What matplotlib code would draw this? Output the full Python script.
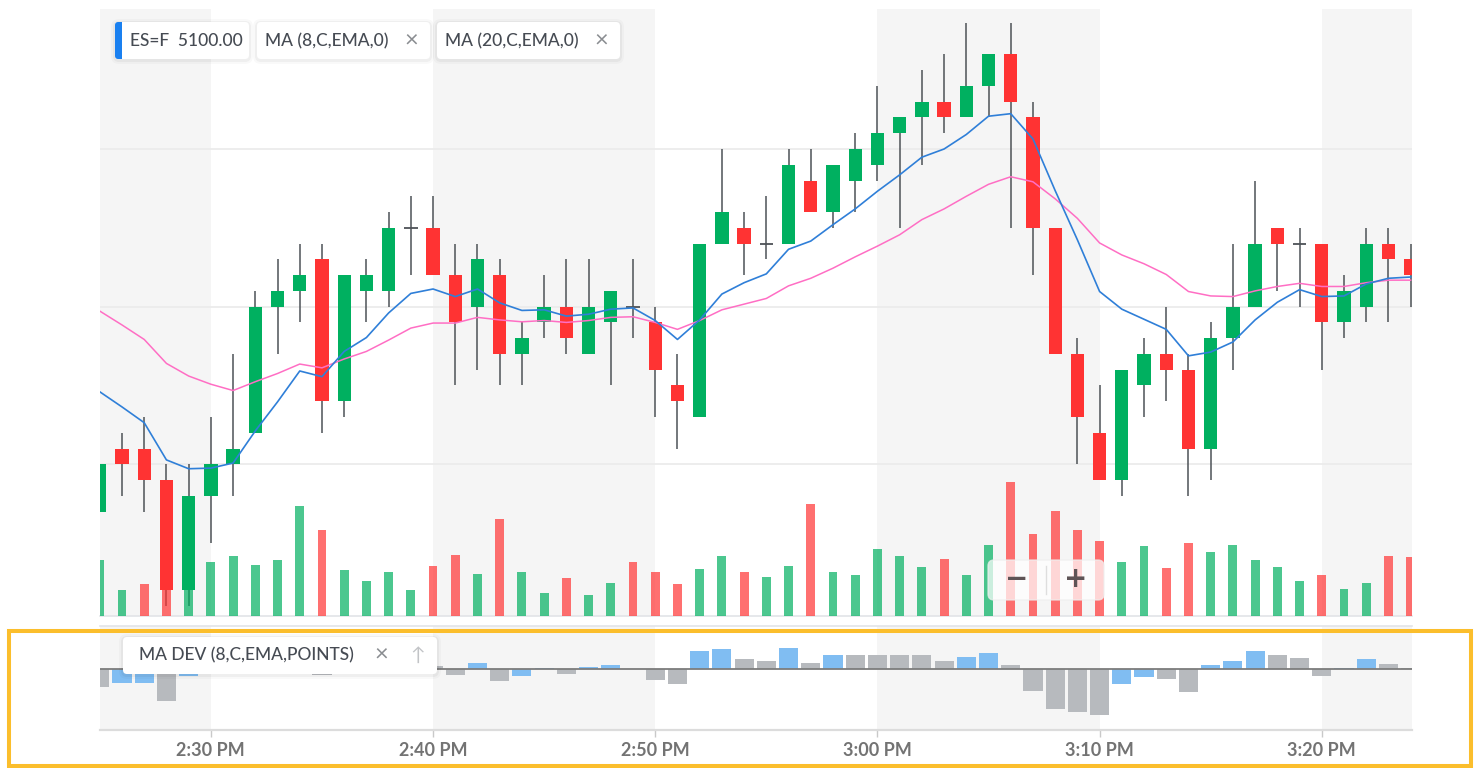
import numpy as np
import matplotlib
matplotlib.use("Agg")
import matplotlib.pyplot as plt
from matplotlib.patches import FancyBboxPatch, Rectangle
from matplotlib.transforms import IdentityTransform

W, H = 1482, 768
plt.rcParams['font.family'] = ['Lato', 'DejaVu Sans']

# one-minute ES=F bars, first bar 2:25 PM
opens = [5096.75, 5097.75, 5097.75, 5097.25, 5095.50, 5097.00, 5097.50, 5098.00, 5100.00, 5100.25,
         5100.75, 5098.50, 5100.25, 5100.25, 5101.25, 5101.25, 5100.50, 5100.00, 5100.50, 5099.25,
         5099.75, 5100.00, 5099.25, 5099.75, 5100.00, 5099.75, 5098.75, 5098.25, 5101.00, 5101.25,
         5101.00, 5101.00, 5102.00, 5101.50, 5102.00, 5102.25, 5102.75, 5103.00, 5103.25, 5103.00,
         5103.50, 5104.00, 5103.00, 5101.25, 5099.25, 5098.00, 5097.25, 5098.75, 5099.25, 5099.00,
         5097.75, 5099.50, 5100.00, 5101.25, 5101.00, 5101.00, 5099.75, 5100.00, 5101.00, 5100.75]
highs = [5097.50, 5098.00, 5098.25, 5097.50, 5097.50, 5098.25, 5099.25, 5100.25, 5100.75, 5101.00,
         5101.00, 5100.50, 5100.75, 5101.50, 5101.75, 5101.75, 5101.00, 5101.00, 5100.75, 5099.75,
         5100.50, 5100.75, 5100.75, 5100.25, 5100.75, 5100.00, 5099.25, 5101.00, 5102.50, 5101.50,
         5101.75, 5102.50, 5102.50, 5102.25, 5102.75, 5103.50, 5103.00, 5103.75, 5104.00, 5104.50,
         5104.00, 5104.50, 5103.25, 5101.25, 5099.50, 5098.75, 5099.00, 5099.50, 5100.00, 5099.25,
         5099.75, 5101.00, 5102.00, 5101.25, 5101.25, 5101.00, 5100.50, 5101.25, 5101.25, 5101.00]
lows = [5096.75, 5097.00, 5096.75, 5095.25, 5095.25, 5096.25, 5097.00, 5098.00, 5099.25, 5099.75,
        5098.00, 5098.25, 5099.75, 5100.00, 5100.50, 5100.50, 5098.75, 5099.00, 5098.75, 5098.75,
        5099.50, 5099.25, 5099.25, 5098.75, 5099.50, 5098.25, 5097.75, 5098.25, 5101.00, 5100.50,
        5100.75, 5101.00, 5101.50, 5101.25, 5101.50, 5102.00, 5101.25, 5102.25, 5102.75, 5103.00,
        5103.00, 5101.25, 5100.50, 5099.25, 5097.50, 5097.25, 5097.00, 5098.25, 5098.50, 5097.00,
        5097.25, 5099.00, 5100.00, 5100.25, 5100.00, 5099.00, 5099.50, 5099.75, 5099.75, 5100.00]
closes = [5097.50, 5097.50, 5097.25, 5095.50, 5097.00, 5097.50, 5097.75, 5100.00, 5100.25, 5100.50,
          5098.50, 5100.50, 5100.50, 5101.25, 5101.25, 5100.50, 5099.75, 5100.75, 5099.25, 5099.50,
          5100.00, 5099.50, 5100.00, 5100.25, 5100.00, 5099.00, 5098.50, 5101.00, 5101.50, 5101.00,
          5101.00, 5102.25, 5101.50, 5102.25, 5102.50, 5102.75, 5103.00, 5103.25, 5103.00, 5103.50,
          5104.00, 5103.25, 5101.25, 5099.25, 5098.25, 5097.25, 5099.00, 5099.25, 5099.00, 5097.75,
          5099.50, 5100.00, 5101.00, 5101.00, 5101.00, 5099.75, 5100.25, 5101.00, 5100.75, 5100.50]
volumes = [1400, 650, 800, 1775, 1100, 1350, 1500, 1275, 1400, 2750,
           2150, 1150, 875, 1100, 650, 1250, 1525, 1050, 2425, 1100,
           575, 950, 525, 825, 1350, 1100, 800, 1175, 1500, 1100,
           975, 1250, 2800, 1100, 1025, 1675, 1500, 1225, 1425, 1025,
           1775, 3350, 2050, 2625, 2150, 1875, 1350, 1750, 1200, 1825,
           1600, 1775, 1400, 1225, 875, 1025, 675, 825, 1500, 1475]
ema8 = [5098.65, 5098.41, 5098.16, 5097.57, 5097.43, 5097.44, 5097.52, 5098.03, 5098.49, 5098.98,
        5098.89, 5099.29, 5099.51, 5099.90, 5100.21, 5100.28, 5100.16, 5100.28, 5100.06, 5099.94,
        5099.95, 5099.85, 5099.88, 5099.96, 5099.98, 5099.78, 5099.48, 5099.79, 5100.20, 5100.38,
        5100.52, 5100.91, 5101.04, 5101.30, 5101.55, 5101.83, 5102.09, 5102.37, 5102.50, 5102.73,
        5103.02, 5103.06, 5102.66, 5101.84, 5101.06, 5100.24, 5099.96, 5099.80, 5099.64, 5099.22,
        5099.28, 5099.44, 5099.79, 5100.07, 5100.27, 5100.16, 5100.17, 5100.36, 5100.45, 5100.47]
ema20 = [5099.93, 5099.71, 5099.48, 5099.10, 5098.90, 5098.77, 5098.67, 5098.81, 5098.94, 5099.09,
         5099.03, 5099.17, 5099.29, 5099.47, 5099.66, 5099.74, 5099.74, 5099.83, 5099.79, 5099.76,
         5099.78, 5099.75, 5099.78, 5099.83, 5099.84, 5099.75, 5099.64, 5099.78, 5099.95, 5100.04,
         5100.13, 5100.33, 5100.45, 5100.61, 5100.79, 5100.96, 5101.14, 5101.38, 5101.55, 5101.75,
         5101.94, 5102.06, 5101.98, 5101.71, 5101.40, 5101.01, 5100.82, 5100.68, 5100.51, 5100.24,
         5100.17, 5100.16, 5100.25, 5100.32, 5100.37, 5100.32, 5100.32, 5100.38, 5100.42, 5100.42]
ma_dev = [-1.19, -0.88, -0.88, -2.07, -0.44, 0.05, 0.22, 1.98, 1.76, 1.52,
          -0.39, 1.21, 0.99, 1.34, 1.03, 0.22, -0.38, 0.43, -0.79, -0.42,
          0.07, -0.31, 0.15, 0.28, 0.04, -0.70, -0.99, 1.21, 1.32, 0.66,
          0.55, 1.42, 0.43, 0.94, 0.94, 0.94, 0.94, 0.94, 0.55, 0.83,
          1.05, 0.28, -1.41, -2.64, -2.83, -3.03, -0.99, -0.53, -0.62, -1.48,
          0.26, 0.55, 1.23, 0.94, 0.72, -0.42, 0.07, 0.66, 0.35, 0.07]
# b = rising (blue), g = not rising (gray)
dev_state = "gbbgbbbbgg" "gbgbgggbgb" "bgbbgggbbg" "gbgbgggggb" "bgggggbbgg" "bbbgggbbgg"

tick_pos = [5, 15, 25, 35, 45, 55]
tick_labels = ["2:30 PM", "2:40 PM", "2:50 PM", "3:00 PM", "3:10 PM", "3:20 PM"]
band_starts = [-5, 15, 35, 55]

GREEN = "#00b060"
RED = "#ff3333"
WICK = "#4d5257"
BAND = "#f5f5f5"

o = np.array(opens); h = np.array(highs); l = np.array(lows); c = np.array(closes)
x = np.arange(len(c))

fig = plt.figure(figsize=(W / 100, H / 100), dpi=100)
ax = fig.add_axes([100 / W, (H - 616.3) / H, 1312 / W, 607.3 / H])
axd = fig.add_axes([100 / W, (H - 730) / H, 1312 / W, 104 / H], sharex=ax)

for a in (ax, axd):
  for s in band_starts:
    a.axvspan(s, s + 10, color=BAND, lw=0, zorder=0)
  for sp in ("left", "right"):
    a.spines[sp].set_visible(False)
ax.spines["top"].set_visible(False)
ax.spines["bottom"].set_color("#e2e4e7")
ax.spines["bottom"].set_linewidth(1.2)
axd.spines["top"].set_color("#e2e4e7")
axd.spines["top"].set_linewidth(1.2)
axd.spines["bottom"].set_color("#dcdcdc")
axd.spines["bottom"].set_linewidth(1.6)

# candles
up = c > o
dn = c < o
flat = c == o
ax.vlines(x, l, h, color=WICK, lw=1.1, zorder=2)
ax.bar(x[up], (c - o)[up], bottom=o[up], width=0.6, color=GREEN, zorder=3)
ax.bar(x[dn], (o - c)[dn], bottom=c[dn], width=0.6, color=RED, zorder=3)
ax.hlines(c[flat], x[flat] - 0.3, x[flat] + 0.3, color=WICK, lw=1.3, zorder=3)
ax.plot(x, ema20, color="#ff6ec4", lw=1.1, zorder=4)
ax.plot(x, ema8, color="#2f7fd8", lw=1.2, zorder=4)

ax.set_ylim(5095.09, 5104.72)
ax.set_yticks([5097.5, 5100.0, 5102.5])
ax.grid(axis="y", color="#ececec", lw=1.3)
ax.set_axisbelow(True)
ax.set_xlim(0.01, 59.06)

# volume
axv = ax.twinx()
vol_up = np.r_[True, c[1:] >= c[:-1]]
axv.bar(x, volumes, width=0.4, color=[GREEN if u else RED for u in vol_up], alpha=0.7, lw=0, zorder=2)
axv.set_ylim(0, max(volumes) * 607.3 / 134)
axv.set_yticks([])
for sp in axv.spines.values():
  sp.set_visible(False)
# twinx turns the left ticks back on
ax.tick_params(left=False, labelleft=False, right=False, bottom=False, labelbottom=False)
axv.tick_params(left=False, right=False, bottom=False, labelbottom=False)

# MA DEV
axd.bar(x, ma_dev, width=0.86, color=["#80bdf2" if s == "b" else "#b7babe" for s in dev_state], zorder=2)
axd.axhline(0, color="#7c7c7c", lw=1.3, zorder=3)
axd.set_ylim(-4.0, 2.85)
axd.set_yticks([])
axd.set_xticks(tick_pos)
axd.set_xticklabels(tick_labels, fontweight="bold")
axd.tick_params(axis="x", color="#c9c9c9", length=5, width=1, labelcolor="#737373", labelsize=13, pad=4)

# overlay boxes
px = IdentityTransform()

def box(x0, y0, x1, y1, r=4, face="white", alpha=1.0, shadow=True, edge="none"):
  if shadow:
    for g, a in ((4, 0.025), (2, 0.04)):
      fig.add_artist(FancyBboxPatch((x0 - g, H - y1 - g - 1), x1 - x0 + 2 * g, y1 - y0 + 2 * g,
                                    boxstyle=f"round,pad=0,rounding_size={r + g}", transform=px,
                                    facecolor="black", edgecolor="none", alpha=a, zorder=5))
  fig.add_artist(FancyBboxPatch((x0, H - y1), x1 - x0, y1 - y0, boxstyle=f"round,pad=0,rounding_size={r}",
                                transform=px, facecolor=face, edgecolor=edge, alpha=alpha, zorder=6))

def label(xx, yy, s, size=12.5, color="#464b53", ha="left", **kw):
  kw.setdefault("fontweight", "medium")
  fig.text(xx, H - yy, s, transform=px, fontsize=size, color=color, ha=ha, va="center", zorder=7, **kw)

box(115, 22, 249, 59)
fig.add_artist(FancyBboxPatch((115, H - 59), 12, 37, boxstyle="round,pad=0,rounding_size=3", transform=px,
                              facecolor="#1a80f0", edgecolor="none", zorder=6.2))
fig.add_artist(Rectangle((122, H - 59), 8, 37, transform=px, facecolor="white", edgecolor="none", zorder=6.3))
label(130, 41, "ES=F  5100.00")

box(257, 22, 430, 59)
label(265, 41, "MA (8,C,EMA,0)")
label(411, 41, "×", size=17, color="#8a8d91", ha="center", fontweight="normal")

box(437, 22, 620, 59)
label(445, 41, "MA (20,C,EMA,0)")
label(601, 41, "×", size=17, color="#8a8d91", ha="center", fontweight="normal")

box(123, 637, 437, 674)
label(139, 655.5, "MA DEV (8,C,EMA,POINTS)")
label(381, 655.5, "×", size=17, color="#8a8d91", ha="center", fontweight="normal")
label(418, 655.5, "↑", size=14, color="#c2c4c7", ha="center", fontweight="normal")

# zoom control
box(988, 560, 1104, 600, r=6, face="white", alpha=0.72, shadow=False, edge="#eeeeee")
fig.add_artist(plt.Line2D([1046, 1046], [H - 566, H - 594], transform=px, color="#dedede", lw=1, zorder=7))
label(1017, 579, "−", size=20, color="#5e5456", ha="center", fontweight="bold", family="DejaVu Sans")
label(1076, 579, "+", size=20, color="#5e5456", ha="center", fontweight="bold", family="DejaVu Sans")

# highlight frame around the indicator pane
fig.add_artist(Rectangle((9, H - 766), 1462, 135, transform=px, fill=False, edgecolor="#fbbe2c", lw=2.9, zorder=8))

fig.savefig("out.png", dpi=100)
